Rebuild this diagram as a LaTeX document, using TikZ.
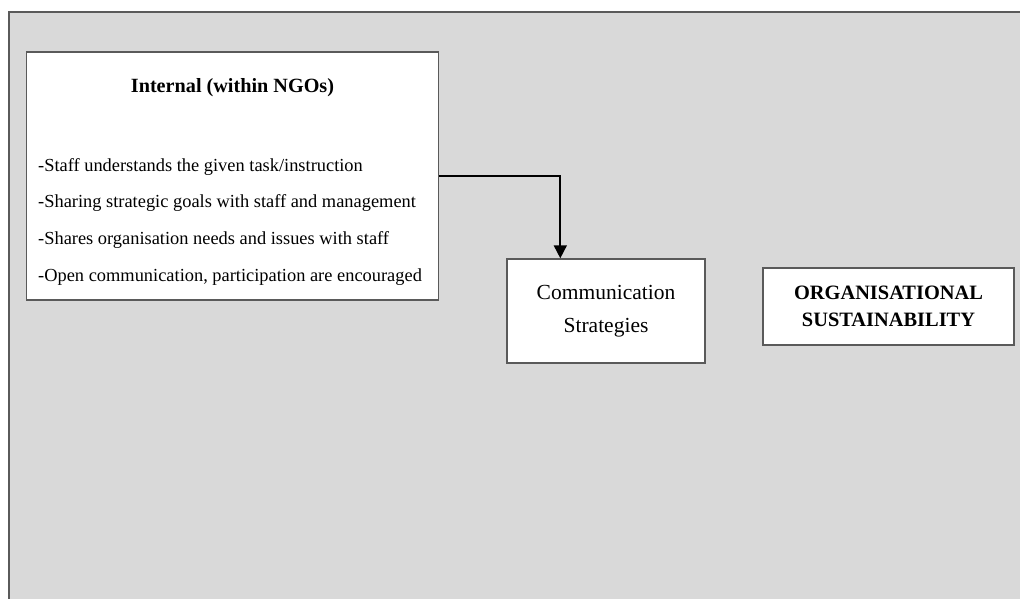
\documentclass[tikz,border=0pt]{standalone}
\usepackage{fontspec}
\setmainfont{Liberation Serif}
\usetikzlibrary{arrows.meta}
\definecolor{bggray}{HTML}{D9D9D9}
\definecolor{edgegray}{HTML}{5A5A5A}
\tikzset{
  box/.style={draw=edgegray, line width=1.4pt, fill=white, rectangle, inner sep=0pt},
  item/.style={anchor=west, inner sep=0pt, font=\fontsize{18.4}{22}\selectfont},
  link/.style={line width=1.7pt, draw=black, -{Triangle[length=13pt,width=13pt]}}
}
\begin{document}
\begin{tikzpicture}[x=1pt,y=-1pt]
\useasboundingbox (0,0) rectangle (1020,599);
\fill[white] (0,0) rectangle (1020,599);
\fill[bggray] (9,12) rectangle (1020,599);
\draw[edgegray, line width=2pt] (9,599) -- (9,12) -- (1020,12);

\node[box, minimum width=412pt, minimum height=248pt] (internal) at (232.5,176) {};
\node[inner sep=0pt, font=\bfseries\fontsize{20.2}{24}\selectfont] (title) at (232.5,88) {Internal (within NGOs)};
\node[item] (i1) at (38,167) {-Staff understands the given task/instruction};
\node[item] (i2) at (38,203) {-Sharing strategic goals with staff and management};
\node[item] (i3) at (38,240) {-Shares organisation needs and issues with staff};
\node[item] (i4) at (38,277) {-Open communication, participation are encouraged};

\node[box, minimum width=198pt, minimum height=104pt, align=center, font=\fontsize{21.5}{33}\selectfont] (comm) at (606,311) {Communication\\Strategies};

\node[box, minimum width=251pt, minimum height=77pt, align=center, font=\bfseries\fontsize{20.4}{27}\selectfont] (org) at (888.5,306.5) {ORGANISATIONAL\\SUSTAINABILITY};

\draw[link] (internal.east) -| ([xshift=54pt]comm.north west);
\end{tikzpicture}
\end{document}
